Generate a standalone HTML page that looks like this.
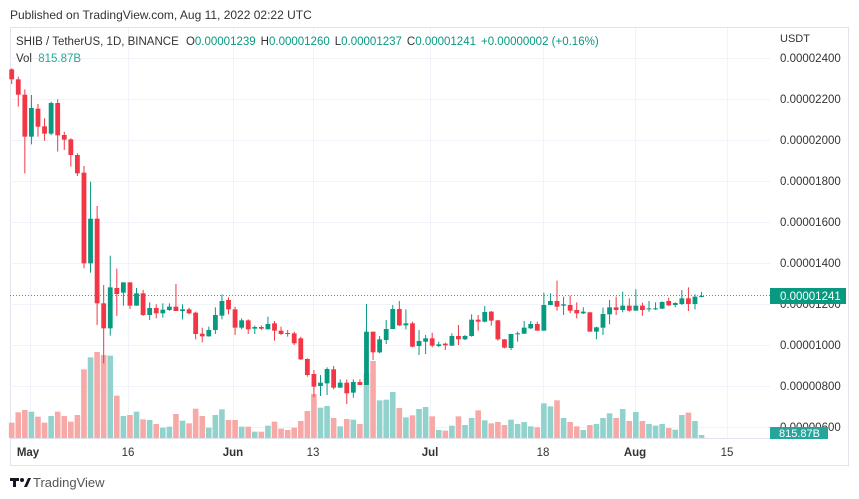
<!DOCTYPE html>
<html><head><meta charset="utf-8"><style>
html,body{margin:0;padding:0;background:#fff;width:859px;height:499px;overflow:hidden}
svg text{font-family:"Liberation Sans",sans-serif}
</style></head><body>
<svg id="s" width="859" height="499" xmlns="http://www.w3.org/2000/svg">
<rect width="859" height="499" fill="#fff"/>
<text x="10" y="19" font-size="12" fill="#333">Published on TradingView.com, Aug 11, 2022 02:22 UTC</text>
<rect x="10.5" y="27.5" width="838" height="438" fill="none" stroke="#e0e3eb"/>
<line x1="10" y1="438.5" x2="770" y2="438.5" stroke="#e0e3eb"/>
<g id="grid" stroke="#f0f3fa" stroke-width="1"></g>
<g id="vol"></g>
<line x1="10" y1="295.5" x2="770" y2="295.5" stroke="#26a69a" stroke-dasharray="1,2" stroke-width="1"/>
<g id="cand"></g>
<text x="16" y="45" font-size="11.5" fill="#333">SHIB / TetherUS, 1D, BINANCE <tspan dx="4">O</tspan><tspan fill="#089981">0.00001239</tspan><tspan dx="5">H</tspan><tspan fill="#089981">0.00001260</tspan><tspan dx="5">L</tspan><tspan fill="#089981">0.00001237</tspan><tspan dx="5">C</tspan><tspan fill="#089981">0.00001241</tspan><tspan dx="5" fill="#089981">+0.00000002 (+0.16%)</tspan></text>
<text x="16" y="62" font-size="11.5" fill="#333">Vol <tspan dx="3" fill="#26a69a">815.87B</tspan></text>
<g id="axis" font-size="11.5" fill="#333"></g>
<text x="780" y="42" font-size="11" fill="#333">USDT</text>
<rect x="770" y="288" width="76" height="16" fill="#089981"/>
<text x="780" y="300" font-size="11.5" fill="#fff">0.00001241</text>
<rect x="770" y="427" width="58" height="12" fill="#26a69a"/>
<text x="779" y="437" font-size="11" fill="#fff">815.87B</text>
<g font-size="11.5" fill="#333">
<text x="28" y="456" text-anchor="middle" font-weight="bold">May</text>
<text x="128" y="456" text-anchor="middle">16</text>
<text x="233" y="456" text-anchor="middle" font-weight="bold">Jun</text>
<text x="313" y="456" text-anchor="middle">13</text>
<text x="430" y="456" text-anchor="middle" font-weight="bold">Jul</text>
<text x="543" y="456" text-anchor="middle">18</text>
<text x="635" y="456" text-anchor="middle" font-weight="bold">Aug</text>
<text x="727" y="456" text-anchor="middle">15</text>
</g>
<g transform="translate(10,478)"><rect x="0" y="0" width="9" height="3" fill="#131722"/><rect x="3" y="0" width="3" height="9" fill="#131722"/><circle cx="12" cy="2" r="2" fill="#131722"/><path d="M14 9 L18 0 L21 0 L17 9Z" fill="#131722"/></g>
<text x="33" y="487" font-size="13" fill="#555">TradingView</text>
</svg>
<script>
var NS="http://www.w3.org/2000/svg";
function el(p,t,a){var e=document.createElementNS(NS,t);for(var k in a)e.setAttribute(k,a[k]);document.getElementById(p).appendChild(e);return e;}
[58,99,140,181,222,263,304,345,386,427].forEach(function(y){el("grid","line",{x1:10,x2:770,y1:y+0.5,y2:y+0.5});});
[30,128,233,313,430,543,635,727].forEach(function(x){el("grid","line",{x1:x+0.5,x2:x+0.5,y1:28,y2:438});});
var labs=["0.00002400","0.00002200","0.00002000","0.00001800","0.00001600","0.00001400","0.00001200","0.00001000","0.00000800","0.00000600"];
labs.forEach(function(l,i){var t=el("axis","text",{x:780,y:58+i*41+4});t.textContent=l;});
var A=[[28,58,25,72,0],[58,104,50,140,0],[104,230,88,340,0],[144,230,105,253,1],[146,200,132,230,0],[199,221,175,242,0],[129,221,125,225,1],[129,226,118,275,0],[225,239,215,270,0],[238,285,235,320,0],[285,340,280,348,0],[338,610,318,625,0],[476,610,365,638,1],[476,730,438,795,0],[730,805,675,910,0],[682,805,587,827,1],[684,702,626,768,0],[667,698,667,737,1],[667,737,667,747,0],[700,737,684,737,1],[700,765,690,768,0],[744,765,727,780,1],[744,760,733,775,0],[749,760,730,773,1],[740,750,730,753,1],[740,753,672,753,0],[748,753,733,778,1],[748,760,743,763,0],[758,822,755,838,0],[821,829,803,847,0],[810,829,800,830,1],[765,810,742,822,1],[723,767,703,778,1],[720,748,712,763,0],[748,803,740,825,0],[781,803,775,808,1],[781,808,778,822,0],[801,806,797,822,1],[801,806,797,810,0],[792,808,770,808,1],[790,812,783,842,0],[812,822,800,825,0],[819,822,810,830,0],[820,850,815,855,0]];
var B=[[235,298,230,300,0],[297,345,295,350,0],[342,380,330,412,0],[368,378,345,408,1],[327,370,322,405,1],[328,383,318,388,0],[368,383,358,383,1],[368,400,358,432,0],[366,398,358,413,1],[366,375,358,375,0],[215,375,132,375,1],[215,277,215,300,0],[238,277,228,280,1],[207,240,180,252,1],[147,207,135,207,1],[147,196,123,198,0],[190,196,148,208,1],[190,260,185,262,0],[243,258,210,285,1],[235,245,225,282,1],[235,257,218,262,0],[253,258,245,262,1],[251,256,248,270,0],[228,257,220,258,1],[228,238,195,255,0],[228,238,225,240,1],[179,228,163,230,1],[179,185,165,212,0],[156,185,138,187,1],[155,182,153,197,0],[181,238,180,242,0],[238,263,237,265,0],[222,264,222,270,1],[220,222,215,245,1],[203,221,183,222,1],[192,205,183,207,1],[192,212,185,212,0],[135,212,98,212,1],[123,135,100,136,1],[123,140,62,152,0],[133,137,110,165,1],[135,152,107,160,0],[150,160,127,175,0],[155,160,142,162,1],[157,215,155,215,0],[202,215,200,238,1],[162,203,143,225,1],[142,163,120,193,1],[142,150,110,165,0],[137,150,95,157,1],[137,152,115,155,0],[137,152,88,152,1],[137,150,128,167,0],[145,148,123,155,1],[145,147,127,150,1],[126,146,124,147,1],[123,136,113,138,0],[129,135,127,142,1],[115,132,90,135,1],[115,132,82,153,0],[110,132,103,148,1],[108,110,96,112,1]];
var C=[];
A.forEach(function(c){C.push([60+c[0]/3,60+c[1]/3,60+c[2]/3,60+c[3]/3,c[4]]);});
B.forEach(function(c){C.push([260+c[0]/3,260+c[1]/3,260+c[2]/3,260+c[3]/3,c[4]]);});
var V1=[1088,1057,1050,1055,1070,1088,1068,1055,1068,1085,1065,928,892,876,885,887,1007,1068,1065,1055,1078,1080,1092,1103,1100,1062,1082,1090,1046,1068,1103,1065,1048,1080,1080,1100,1100,1115,1115,1097,1085,1106,1110,1103];
var V2=[483,453,402,443,438,474,499,477,479,492,340,303,421,419,396,444,472,466,447,441,469,510,512,497,469,495,474,451,481,490,486,495,479,492,486,499,502,430,439,421,474,486,499,510,495,492,474,460,474,447,483,456,483,492,497,492,504,509,465,458,483,525];
var V=V1.map(function(v){return 60+v/3;}).concat(V2.map(function(v){return 260+v/3;}));
for(var i=0;i<C.length;i++){
 var x=11.7+i*6.57,c=C[i],g=c[4];
 var vy=V[i]; if(vy!==undefined) el("vol","rect",{x:x-2.8,y:vy,width:5.6,height:Math.max(438-vy,1),fill:g?"#92d2cc":"#f7a9a7"});
 var col=g?"#089981":"#f23645";
 el("cand","line",{x1:x,x2:x,y1:c[2],y2:c[3],stroke:col,"stroke-width":1});
 el("cand","rect",{x:x-2.4,y:c[0],width:4.8,height:Math.max(c[1]-c[0],1),fill:col});
}
</script>
</body></html>
